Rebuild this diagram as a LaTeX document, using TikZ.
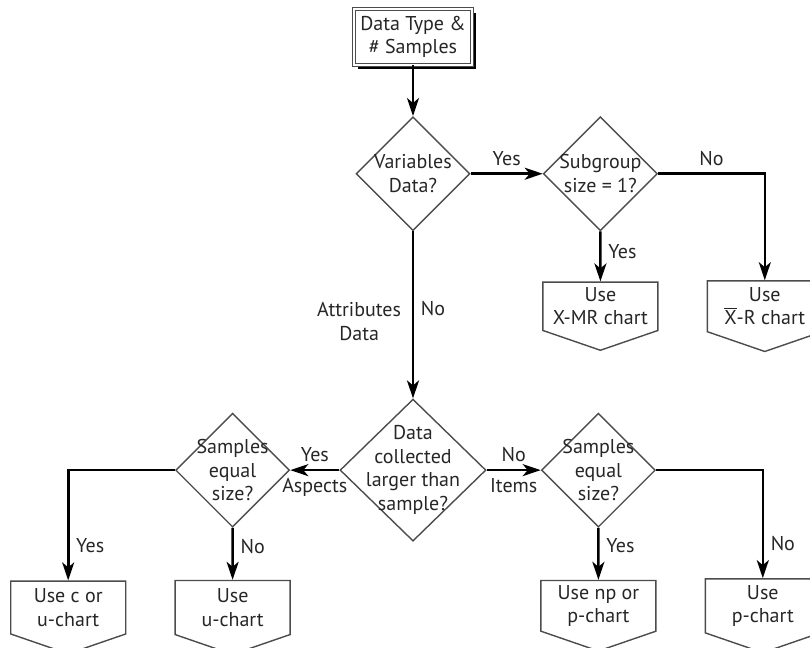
\documentclass[tikz,border=0pt]{standalone}
\usepackage{fontspec}
\setmainfont{PT Sans}
\usetikzlibrary{shapes.geometric, shapes.symbols, arrows.meta, shadows, positioning}
\tikzstyle{start} = [rectangle, draw=black!70, line width=0.5pt, double, double distance=1pt, fill=white, minimum width=54.5pt, minimum height=27pt, align=center, drop shadow={shadow xshift=2pt, shadow yshift=-2pt, fill=black, opacity=1}]
\tikzstyle{decision} = [diamond, draw=black!70, line width=0.7pt, inner sep=-6pt, align=center, minimum width=57pt, minimum height=57pt]
\tikzstyle{chart} = [signal, signal to=south, signal from=nowhere, signal pointer angle=142, draw=black!70, line width=0.7pt, align=center, inner ysep=1pt, minimum width=57.5pt, minimum height=33.5pt]
\tikzstyle{arrow} = [line width=1.3pt, -{Stealth[length=9pt, width=6pt, inset=2.5pt]}]

\begin{document}
\begin{tikzpicture}[x=1pt, y=1pt, font=\fontsize{10}{11.75}\selectfont, text=black!85]
	\useasboundingbox (0,0) rectangle (405,-324);
	\node (DataType) [start] at (206.5,-18.5) {Data Type \&\\\# Samples};
	\node (VarData) [decision, below = 25.5pt of DataType] {Variables\\Data?};
	\node (Subgroup) [decision, right = 36pt of VarData] {Subgroup\\size = 1?};
	\node (ChartXMR) [chart, below = 25pt of Subgroup] {Use\\X-MR chart};
	\node (ChartXR) [chart, right = 24pt of ChartXMR] {Use\\$\overline{\hbox{X}}$-R chart};
	\node (DataLarger) [decision, minimum width=73pt, minimum height=71pt, below = 83.5pt of VarData] {Data\\collected\\larger than\\sample?};
	\node (SampLeft) [decision, left = 24.5pt of DataLarger] {Samples\\equal\\size?};
	\node (SampRight) [decision, right = 27pt of DataLarger] {Samples\\equal\\size?};
	\node (ChartU) [chart, below = 26pt of SampLeft] {Use\\u-chart};
	\node (ChartCU) [chart, left = 24pt of ChartU] {Use c or\\u-chart};
	\node (ChartNP) [chart, below = 26pt of SampRight] {Use np or\\p-chart};
	\node (ChartP) [chart, right = 24pt of ChartNP] {Use\\p-chart};
	\draw [arrow] (DataType) -- (VarData);
	\draw [arrow] (VarData) -- node[above]{Yes} (Subgroup);
	\draw [arrow] (Subgroup.east) -| node[pos=0.25, above]{No} (ChartXR.north);
	\draw [arrow] (Subgroup) -- node[right, pos=0.4]{Yes} (ChartXMR);
	\draw [arrow] (VarData) -- node[right, pos=0.46]{No} node[left, align=center, pos=0.54, xshift=-2pt]{Attributes\\Data} (DataLarger);
	\draw [arrow] (DataLarger) -- node[above]{Yes} node[below]{Aspects} (SampLeft);
	\draw [arrow] (DataLarger) -- node[above]{No} node[below]{Items} (SampRight);
	\draw [arrow] (SampLeft.west) -| node[pos=0.84, right]{Yes} (ChartCU.north);
	\draw [arrow] (SampLeft) -- node[right, pos=0.35]{No} (ChartU);
	\draw [arrow] (SampRight) -- node[right, pos=0.35]{Yes} (ChartNP);
	\draw [arrow] (SampRight.east) -| node[pos=0.84, right]{No} (ChartP.north);
\end{tikzpicture}
\end{document}
